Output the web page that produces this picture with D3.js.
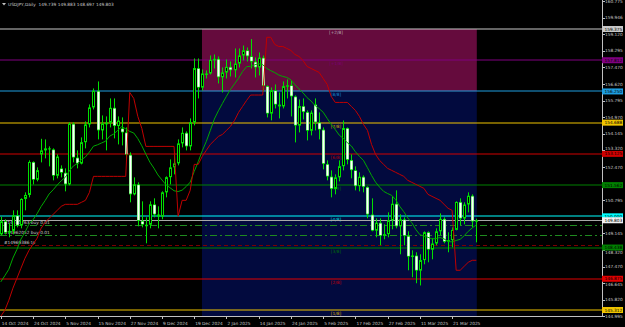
<!DOCTYPE html>
<html><head><meta charset="utf-8">
<script src="https://cdn.jsdelivr.net/npm/d3@7"></script>
<style>html,body{margin:0;padding:0;background:#000;overflow:hidden}svg{display:block}</style>
</head><body><svg id="c" width="625" height="327"></svg>
<script>
// ---------- DATA ----------
const dates = ["2024-10-14","2024-10-15","2024-10-16","2024-10-17","2024-10-18","2024-10-21","2024-10-22","2024-10-23","2024-10-24","2024-10-25","2024-10-28","2024-10-29","2024-10-30","2024-10-31",
"2024-11-01","2024-11-04","2024-11-05","2024-11-06","2024-11-07","2024-11-08","2024-11-11","2024-11-12","2024-11-13","2024-11-14","2024-11-15","2024-11-18","2024-11-19","2024-11-20","2024-11-21","2024-11-22","2024-11-25","2024-11-26","2024-11-27","2024-11-28","2024-11-29",
"2024-12-02","2024-12-03","2024-12-04","2024-12-05","2024-12-06","2024-12-09","2024-12-10","2024-12-11","2024-12-12","2024-12-13","2024-12-16","2024-12-17","2024-12-18","2024-12-19","2024-12-20","2024-12-23","2024-12-24","2024-12-26","2024-12-27","2024-12-30","2024-12-31",
"2025-01-02","2025-01-03","2025-01-06","2025-01-07","2025-01-08","2025-01-09","2025-01-10","2025-01-13","2025-01-14","2025-01-15","2025-01-16","2025-01-17","2025-01-20","2025-01-21","2025-01-22","2025-01-23","2025-01-24","2025-01-27","2025-01-28","2025-01-29","2025-01-30","2025-01-31",
"2025-02-03","2025-02-04","2025-02-05","2025-02-06","2025-02-07","2025-02-10","2025-02-11","2025-02-12","2025-02-13","2025-02-14","2025-02-17","2025-02-18","2025-02-19","2025-02-20","2025-02-21","2025-02-24","2025-02-25","2025-02-26","2025-02-27","2025-02-28",
"2025-03-03","2025-03-04","2025-03-05","2025-03-06","2025-03-07","2025-03-10","2025-03-11","2025-03-12","2025-03-13","2025-03-14","2025-03-17","2025-03-18","2025-03-19","2025-03-20","2025-03-21","2025-03-24","2025-03-25","2025-03-26","2025-03-27","2025-03-28","2025-03-31"];

const open = [149.10,149.75,149.18,149.27,150.05,149.54,150.87,151.07,152.72,151.83,153.10,153.30,153.40,153.35,
152.03,152.40,152.18,151.60,154.63,152.94,152.64,153.71,154.60,155.45,156.28,154.30,154.65,154.68,155.43,154.52,154.40,154.20,153.08,151.10,151.60,
149.77,149.58,149.58,150.60,150.09,149.99,151.20,151.96,152.45,152.65,153.65,154.18,153.50,154.70,157.42,156.44,157.15,157.15,157.83,157.88,156.96,
157.20,157.48,157.31,157.64,158.05,158.31,158.01,157.74,157.45,157.94,156.52,155.14,156.31,155.59,155.50,156.52,156.56,156.00,154.54,155.52,155.22,154.28,
155.60,154.70,154.34,152.62,151.99,151.37,151.95,152.51,154.42,152.82,152.31,151.51,151.98,151.47,150.09,149.28,149.68,149.02,149.11,149.80,
150.63,149.50,149.85,149.02,147.98,148.04,147.28,147.81,149.21,148.33,148.64,149.25,149.87,148.72,148.81,149.32,150.72,149.89,150.59,151.03,149.739];
const high = [149.98,149.85,149.65,150.30,150.30,150.90,151.20,152.80,152.75,152.45,153.88,153.85,153.50,153.40,
153.10,152.55,152.40,154.70,154.70,153.30,153.95,154.75,155.60,156.40,156.75,155.05,155.00,155.90,155.90,155.00,154.95,154.45,153.20,151.95,151.70,
150.75,149.95,150.75,150.90,150.50,151.25,152.00,152.85,153.15,153.85,154.45,154.25,154.90,157.90,157.90,157.35,157.30,158.05,158.10,158.00,157.45,
157.85,157.75,158.40,158.40,158.55,158.45,158.87,157.95,158.20,158.05,156.55,156.45,156.60,156.20,156.75,156.85,156.80,156.05,155.85,155.90,155.30,155.30,
155.90,155.20,154.45,152.80,152.30,152.10,152.80,154.80,154.45,153.10,152.50,152.20,152.05,151.50,150.90,149.90,149.90,149.60,150.20,151.00,
151.30,150.10,149.95,149.25,148.30,148.20,148.10,149.25,149.25,148.90,149.40,150.15,149.95,149.20,149.45,150.75,150.90,150.70,151.20,151.10,149.883];
const low = [149.05,149.10,148.95,149.10,149.45,149.40,150.30,150.95,151.60,151.75,152.70,152.90,152.50,151.80,
151.90,151.95,151.25,151.55,152.70,152.40,152.60,153.40,154.45,155.35,153.85,153.85,153.30,154.45,153.90,153.60,153.55,152.80,150.70,151.05,149.50,
149.45,148.65,149.40,149.95,149.40,149.85,150.95,151.60,152.10,152.55,153.45,153.30,153.30,154.55,155.90,156.30,156.90,157.10,157.40,156.65,156.20,
156.90,157.00,156.95,157.45,157.80,157.75,157.40,156.95,157.05,156.25,154.95,154.80,155.40,154.90,155.40,155.90,155.00,153.70,154.20,154.85,153.80,154.05,
154.30,153.85,152.35,151.80,150.95,151.10,151.75,152.30,152.60,151.90,151.30,151.25,151.20,149.90,149.25,148.95,148.55,148.85,148.95,149.35,
149.40,148.10,148.55,147.30,146.95,146.65,146.54,147.60,147.70,147.85,148.55,149.05,148.65,148.20,148.45,149.30,149.55,149.60,150.20,149.45,148.697];
const close = [149.75,149.18,149.27,150.05,149.54,150.87,151.07,152.72,151.83,152.31,153.30,153.40,153.35,152.03,
152.99,152.18,151.60,154.63,152.94,152.64,153.71,154.60,155.45,156.28,154.30,154.65,154.68,155.43,154.52,154.79,154.20,153.08,151.10,151.60,149.77,
149.58,149.58,150.60,150.09,149.99,151.20,151.96,152.45,152.65,153.65,154.18,153.50,154.70,157.42,156.44,157.15,157.15,157.83,157.88,156.96,157.20,
157.48,157.31,157.64,158.05,158.31,158.01,157.74,157.45,157.94,156.52,155.14,156.31,155.59,155.50,156.52,156.56,156.00,154.54,155.52,155.22,154.28,155.19,
154.70,154.34,152.62,151.99,151.37,151.95,152.51,154.42,152.82,152.31,151.51,151.98,151.47,150.09,149.28,149.68,149.02,149.11,149.80,150.63,
149.50,149.85,149.02,147.98,148.04,147.28,147.81,149.21,148.33,148.64,149.25,149.87,148.72,148.81,149.32,150.72,149.89,150.59,151.03,149.74,149.803];

// green moving average line
const maLine = [146.72,147.03,147.35,147.91,148.34,148.86,149.20,149.61,149.83,150.13,150.49,150.79,151.12,151.33,
151.57,151.78,151.95,152.27,152.52,152.64,152.83,152.97,153.22,153.51,153.58,153.67,153.76,154.01,154.12,154.30,154.49,154.38,154.25,154.17,153.89,
153.53,153.11,152.71,152.41,152.07,151.82,151.58,151.43,151.28,151.24,151.31,151.49,151.71,152.25,152.74,153.28,153.75,154.30,154.87,155.28,155.65,
156.01,156.35,156.63,156.91,157.25,157.49,157.51,157.58,157.64,157.59,157.40,157.29,157.19,157.07,157.00,156.95,156.83,156.58,156.38,156.18,155.94,155.77,
155.54,155.39,155.21,154.90,154.60,154.34,154.06,153.90,153.68,153.52,153.23,153.00,152.80,152.43,152.05,151.71,151.46,151.25,151.14,151.05,
150.83,150.50,150.23,149.92,149.68,149.34,149.08,149.01,148.95,148.87,148.89,148.94,148.87,148.74,148.72,148.79,148.85,149.03,149.25,149.42,149.57];

// red trailing-stop line
const trailLine = [145.00,145.30,145.80,146.40,146.90,147.40,147.90,148.30,148.60,148.90,149.40,149.70,149.90,150.10,
150.30,150.50,150.60,150.60,150.60,150.60,150.70,150.80,151.20,152.00,152.00,152.00,152.00,152.00,152.00,152.00,152.00,152.00,156.20,155.90,155.00,
154.40,153.50,153.50,153.50,153.50,153.50,153.50,153.50,153.50,150.00,150.80,150.80,151.30,152.60,152.60,153.00,153.30,153.60,153.80,154.00,154.10,
154.30,154.50,154.80,155.20,155.50,155.80,156.07,156.07,156.07,156.07,158.96,158.96,158.60,158.50,158.50,158.40,158.30,158.10,158.00,157.80,157.50,157.40,
157.30,157.20,156.90,156.60,156.00,155.70,155.70,155.70,155.70,155.50,155.30,155.00,154.60,154.30,153.60,153.10,152.80,152.60,152.40,152.30,
152.20,152.10,152.00,151.80,151.70,151.60,151.50,151.40,151.10,151.00,150.90,150.80,150.60,150.40,150.30,147.30,147.30,147.50,147.70,147.80,147.80];

const murreyNames  = ["[+2/8]","[+1/8]","[8/8]","[7/8]","[6/8]","[5/8]","[4/8]","[3/8]","[2/8]","[1/8]"];
const murreyLevels = [159.375,157.812,156.250,154.688,153.125,151.562,150.000,148.438,146.875,145.312];
const murreyColors = ["#c8c8c8","#800080","#1e9ee0","#f0c400","#d00000","#008000","#00ffff","#008000","#e00000","#f0c400"];
const murreyTagText = ["159.375","157.812","156.250","154.688","153.125","151.562","150.000","148.438","146.875","145.312"];
const boxStart = "2024-12-23", boxEnd = "2025-03-31";

// axis price labels that are not covered by a price tag
const priceTicks = [160.775,159.946,159.120,158.295,157.470,156.620,155.795,154.970,154.145,153.320,152.470,150.795,149.145,148.320,147.470,146.645,145.820,144.995];
const timeTickDates  = ["2024-10-14","2024-10-24","2024-11-05","2024-11-15","2024-11-27","2024-12-09","2024-12-19","2025-01-02","2025-01-14","2025-01-24","2025-02-05","2025-02-17","2025-02-27","2025-03-11","2025-03-21"];
const timeTickLabels = ["14 Oct 2024","24 Oct 2024","5 Nov 2024","15 Nov 2024","27 Nov 2024","9 Dec 2024","19 Dec 2024","2 Jan 2025","14 Jan 2025","24 Jan 2025","5 Feb 2025","17 Feb 2025","27 Feb 2025","11 Mar 2025","21 Mar 2025"];

const bidPrice = 149.803;
const orderLabels = ["#14161263 buy 0.01","#14962052 buy 0.01","#14969386 tp"];
const orderPrices = [149.57,149.07,148.57];
const orderKinds  = ["open","open","tp"];
const headerText = "USDJPY,Daily  149.739 149.883 148.697 149.803";

// ---------- LAYOUT ----------
const W = 625, H = 327, plotR = 602, plotB = 316;
const FONT = "DejaVu Sans";
const svg = d3.select("#c");
svg.append("rect").attr("width",W).attr("height",H).attr("fill","#000");

const x = d3.scalePoint().domain(dates).range([0.8, 476.3]);
const y = d3.scaleLinear().domain([145.312, 159.375]).range([310, 29]);
const px = v => Math.round(v) + 0.5;

svg.append("defs").append("clipPath").attr("id","plot")
  .append("rect").attr("x",0).attr("y",0).attr("width",plotR).attr("height",plotB);
const g = svg.append("g").attr("clip-path","url(#plot)");

// Murrey box
const bx0 = x(boxStart) - 0.3, bx1 = x(boxEnd) + 0.5;
g.append("rect").attr("x",bx0).attr("y",y(murreyLevels[0])).attr("width",bx1-bx0)
  .attr("height",y(murreyLevels[2]) - y(murreyLevels[0])).attr("fill","#650b3d");
g.append("rect").attr("x",bx0).attr("y",y(murreyLevels[2])).attr("width",bx1-bx0)
  .attr("height",plotB - y(murreyLevels[2])).attr("fill","#020a3e");

// Murrey lines
murreyLevels.forEach((lv,i)=>{
  g.append("line").attr("x1",0).attr("x2",plotR).attr("y1",px(y(lv))-0.5).attr("y2",px(y(lv))-0.5)
   .attr("stroke",murreyColors[i]).attr("stroke-width",1.2);
  g.append("text").attr("x",336).attr("y",y(lv)+5).attr("text-anchor","middle")
   .attr("font-family",FONT).attr("font-size",4.3).attr("fill",murreyColors[i]).attr("opacity",0.85)
   .text(murreyNames[i]);
});

// bid line
g.append("line").attr("x1",0).attr("x2",plotR).attr("y1",px(y(bidPrice))).attr("y2",px(y(bidPrice)))
  .attr("stroke","#a8a8a8").attr("stroke-width",1);

// order lines
orderPrices.forEach((p,i)=>{
  const yy = px(y(p));
  g.append("line").attr("x1",0).attr("x2",plotR).attr("y1",yy).attr("y2",yy)
   .attr("stroke", orderKinds[i]==="open" ? "#1f8a1f" : "#7a0000")
   .attr("stroke-dasharray", orderKinds[i]==="open" ? "7,3,2,3" : "4,3");
  g.append("text").attr("x",4).attr("y",yy-1.5).attr("font-family",FONT).attr("font-size",4.3)
   .attr("fill","#c8c8c8").text(orderLabels[i]);
});

// candles
const idx = d3.range(dates.length);
const cg = g.append("g");
idx.forEach(i=>{
  const cx = Math.round(x(dates[i]));
  const up = close[i] >= open[i];
  cg.append("line").attr("x1",cx+0.5).attr("x2",cx+0.5).attr("y1",y(high[i])).attr("y2",y(low[i]))
    .attr("stroke","#00e000").attr("stroke-width",1);
  const top = y(Math.max(open[i],close[i])), bot = y(Math.min(open[i],close[i]));
  const h = Math.max(1, bot - top);
  if (up) {
    cg.append("rect").attr("x",cx-0.5).attr("y",top+0.5).attr("width",2).attr("height",Math.max(0.5,h-1))
      .attr("fill","#000").attr("stroke","#00e000").attr("stroke-width",1);
  } else {
    cg.append("rect").attr("x",cx-1).attr("y",top).attr("width",3).attr("height",h).attr("fill","#00e000");
    if (h > 2) cg.append("rect").attr("x",cx-0.6).attr("y",top+0.8).attr("width",2.2).attr("height",h-1.6).attr("fill","#ffffff");
  }
});

// indicator lines
const lineGen = arr => d3.line().x((d,i)=>x(dates[i])).y(d=>y(d))(arr);
g.append("path").attr("d",lineGen(maLine)).attr("fill","none").attr("stroke","#00a800").attr("stroke-width",1);
g.append("path").attr("d",lineGen(trailLine)).attr("fill","none").attr("stroke","#c00000").attr("stroke-width",1);

// axes frame
svg.append("line").attr("x1",plotR+0.5).attr("x2",plotR+0.5).attr("y1",0).attr("y2",plotB+0.5).attr("stroke","#c0c0c0");
svg.append("line").attr("x1",0).attr("x2",plotR+0.5).attr("y1",plotB+0.5).attr("y2",plotB+0.5).attr("stroke","#c0c0c0");

// price tags (positions used to keep axis labels clear of them)
const tagYs = murreyLevels.map(lv=>y(lv)).concat([y(bidPrice)]);

// price ticks
priceTicks.forEach(p=>{
  let yy = Math.min(y(p), 320);
  tagYs.forEach(ty=>{ if (Math.abs(yy-ty) < 5.2) yy = yy > ty ? ty + 5.2 : ty - 5.2; });
  svg.append("line").attr("x1",plotR).attr("x2",plotR+3).attr("y1",px(y(p))).attr("y2",px(y(p))).attr("stroke","#c0c0c0");
  svg.append("text").attr("x",605).attr("y",yy+1.6).attr("font-family",FONT).attr("font-size",4.3)
    .attr("fill","#c8c8c8").text(p.toFixed(3));
});

const tag = (p, bg, txt, fg) => {
  const yy = y(p);
  svg.append("rect").attr("x",602).attr("y",yy-3).attr("width",21).attr("height",6).attr("fill",bg);
  svg.append("text").attr("x",604.5).attr("y",yy+1.6).attr("font-family",FONT).attr("font-size",4.3)
    .attr("fill",fg).text(txt);
};
murreyLevels.forEach((lv,i)=> tag(lv, murreyColors[i], murreyTagText[i], "#000"));
tag(bidPrice, "#f0f0f0", bidPrice.toFixed(3), "#000");

// time axis
timeTickDates.forEach((d,i)=>{
  const xx = x(d);
  svg.append("line").attr("x1",px(xx)).attr("x2",px(xx)).attr("y1",plotB).attr("y2",plotB+3).attr("stroke","#c0c0c0");
  svg.append("text").attr("x",xx+1).attr("y",324.5).attr("font-family",FONT).attr("font-size",4.3)
    .attr("fill","#c8c8c8").text(timeTickLabels[i]);
});

// header
svg.append("path").attr("d","M2,3 L6,3 L4,5.5 Z").attr("fill","#c0c0c0");
svg.append("text").attr("x",8).attr("y",5.8).attr("font-family",FONT).attr("font-size",4.3)
  .attr("fill","#c8c8c8").style("white-space","pre").text(headerText);
</script>
</body></html>
